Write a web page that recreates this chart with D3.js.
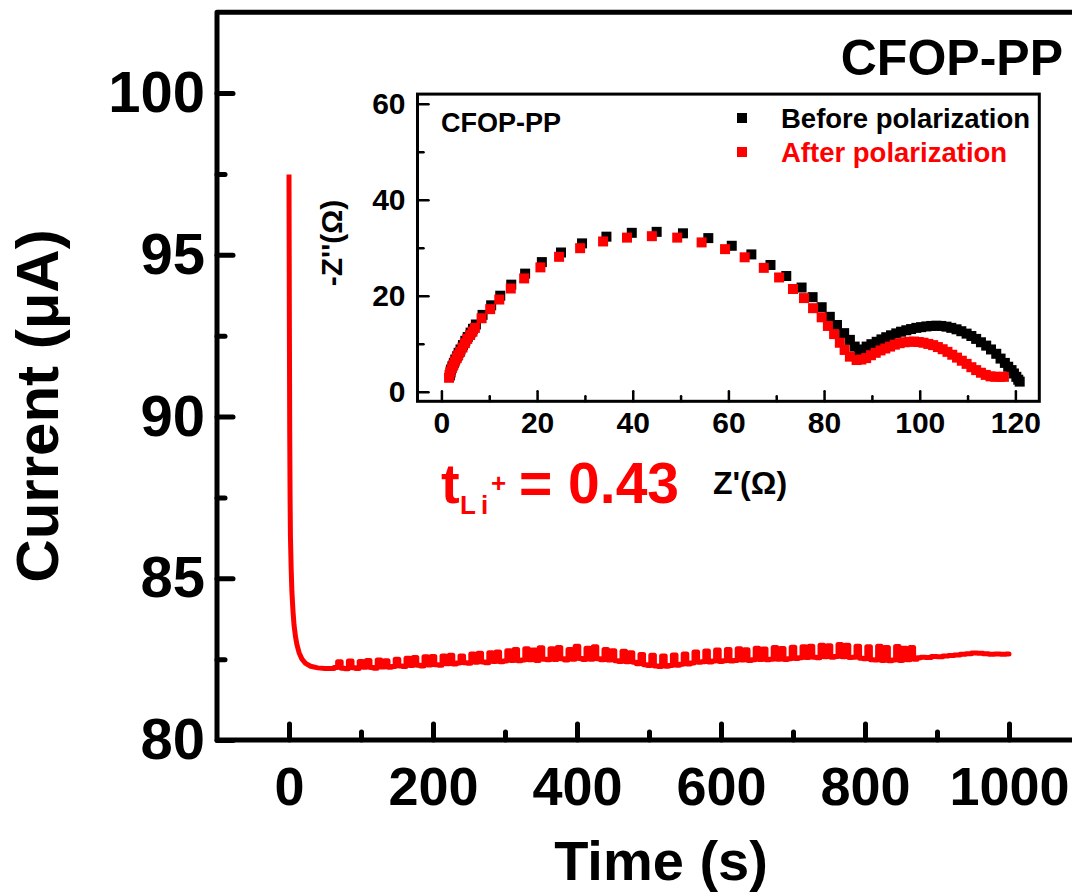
<!DOCTYPE html>
<html>
<head>
<meta charset="utf-8">
<script src="https://cdn.jsdelivr.net/npm/d3@7"></script>
<style>
  html, body { margin: 0; padding: 0; background: #fff; }
  svg { display: block; }
  text { font-family: "Liberation Sans", Arial, Helvetica, sans-serif; font-weight: bold; }
</style>
</head>
<body>
<svg id="chart" width="1072" height="894"></svg>
<script>
// Chronoamperometry: current (µA) vs time (s)
const currentSeries = [
  [0, 97.48], [0.5, 93.0], [1, 89.5], [1.5, 87.5], [2, 86.3], [3, 85.3], [4, 84.6],
  [5.5, 84.0], [7, 83.55], [9, 83.2], [11, 82.95], [14, 82.7], [18, 82.5], [23, 82.37],
  [30, 82.28], [40, 82.23], [50, 82.21],
  [60, 82.21], [65, 82.24], [70, 82.42], [75, 82.22], [80, 82.20], [85, 82.44], [90, 82.23],
  [95, 82.21], [100, 82.43], [105, 82.25], [110, 82.46], [115, 82.24], [120, 82.22], [125, 82.47],
  [130, 82.26], [135, 82.45], [140, 82.25], [145, 82.27], [150, 82.50],
  [155, 82.29], [160, 82.27], [165, 82.53], [170, 82.30], [175, 82.55], [180, 82.31], [185, 82.29],
  [190, 82.57], [195, 82.32], [200, 82.58], [205, 82.33], [210, 82.31], [215, 82.60], [220, 82.36],
  [225, 82.62], [230, 82.35], [235, 82.38], [240, 82.60], [245, 82.39], [250, 82.37], [255, 82.66],
  [260, 82.40], [265, 82.68], [270, 82.41], [275, 82.39], [280, 82.70], [285, 82.43], [290, 82.72],
  [295, 82.42], [300, 82.44],
  [305, 82.76], [310, 82.46], [315, 82.80], [320, 82.45], [325, 82.47], [330, 82.82], [335, 82.48],
  [340, 82.78], [345, 82.46], [350, 82.85], [355, 82.50], [360, 82.48], [365, 82.82], [370, 82.49],
  [375, 82.86], [380, 82.51], [385, 82.47], [390, 82.80], [395, 82.50], [400, 82.90], [405, 82.52],
  [410, 82.49], [415, 82.84], [420, 82.50], [425, 82.88], [430, 82.51], [435, 82.48], [440, 82.80],
  [445, 82.47], [450, 82.76], [455, 82.45], [460, 82.43], [465, 82.74], [470, 82.42], [475, 82.70],
  [480, 82.40],
  [485, 82.36], [490, 82.64], [495, 82.33], [500, 82.30], [505, 82.62], [510, 82.29], [515, 82.27],
  [520, 82.60], [525, 82.28], [530, 82.30], [535, 82.63], [540, 82.31], [545, 82.34], [550, 82.66],
  [555, 82.35], [560, 82.38],
  [565, 82.72], [570, 82.40], [575, 82.42], [580, 82.75], [585, 82.41], [590, 82.44], [595, 82.78],
  [600, 82.43], [605, 82.45], [610, 82.80], [615, 82.44], [620, 82.46], [625, 82.82], [630, 82.47],
  [635, 82.79], [640, 82.46], [645, 82.48], [650, 82.84], [655, 82.49], [660, 82.81], [665, 82.48],
  [670, 82.50], [675, 82.86], [680, 82.50], [685, 82.83], [690, 82.49], [695, 82.51], [700, 82.87],
  [705, 82.52], [710, 82.54], [715, 82.88], [720, 82.55], [725, 82.90], [730, 82.56], [735, 82.54],
  [740, 82.93], [745, 82.57], [750, 82.91], [755, 82.56], [760, 82.58], [765, 82.95], [770, 82.57],
  [775, 82.93], [780, 82.55], [785, 82.56], [790, 82.90], [795, 82.53], [800, 82.51],
  [805, 82.88], [810, 82.48], [815, 82.47], [820, 82.90], [825, 82.46], [830, 82.86], [835, 82.45],
  [840, 82.47], [845, 82.89], [850, 82.46], [855, 82.84], [860, 82.48], [865, 82.86], [870, 82.50],
  [875, 82.54], [880, 82.56], [888, 82.55], [896, 82.58], [904, 82.57], [912, 82.60], [920, 82.61],
  [928, 82.63], [936, 82.65], [944, 82.67], [952, 82.69], [960, 82.68], [968, 82.67], [976, 82.65],
  [984, 82.66], [992, 82.65], [1000, 82.66]
];
const timeTicks = [0, 200, 400, 600, 800, 1000];
const timeMinorTicks = [100, 300, 500, 700, 900];
const currentTicks = [80, 85, 90, 95, 100];
const currentMinorTicks = [82.5, 87.5, 92.5, 97.5];

// Nyquist plot: Z' (Ω) vs -Z'' (Ω)
const beforeSeries = [
  [1.8, 3.4], [1.9, 4.0], [2.0, 4.6], [2.3, 5.3], [2.6, 6.0], [2.9, 6.7], [3.3, 7.4], [3.6, 8.1],
  [4.0, 8.8], [4.5, 9.7], [5.0, 10.6], [5.5, 11.4], [6.1, 12.3], [6.6, 13.1], [7.2, 14.0],
  [8.6, 16.0], [10.4, 18.0], [12.3, 20.0], [14.6, 22.3], [17.5, 24.6], [21.0, 27.0], [25.0, 29.0],
  [29.4, 30.9], [34.5, 32.3], [39.8, 33.1], [45.0, 33.3], [50.5, 33.0], [55.8, 32.0], [60.7, 30.4],
  [64.8, 28.6], [68.8, 26.4], [72.1, 24.1], [75.3, 21.7], [77.6, 19.7], [79.5, 17.6], [81.2, 15.6],
  [82.7, 13.9], [84.2, 12.2], [85.4, 10.8], [86.4, 9.4], [87.3, 8.3], [88.1, 8.8], [88.9, 9.4],
  [89.9, 9.9], [91.0, 10.4], [92.0, 10.9], [93.0, 11.35], [94.0, 11.75], [95.1, 12.15], [96.1, 12.5],
  [97.2, 12.8], [98.2, 13.05], [99.3, 13.3], [100.3, 13.45], [101.4, 13.6], [102.4, 13.7],
  [103.5, 13.75], [104.5, 13.7], [105.6, 13.55], [106.6, 13.3], [107.7, 13.0], [108.7, 12.6],
  [109.8, 12.1], [110.8, 11.6], [111.8, 11.0], [112.8, 10.3], [113.9, 9.6], [114.9, 8.8],
  [116.0, 7.9], [116.9, 6.9], [117.8, 6.0], [118.5, 5.2], [119.2, 4.5], [119.7, 3.8], [120.2, 3.1],
  [120.6, 2.5], [120.9, 2.1]
];
const afterSeries = [
  [1.6, 2.9], [1.7, 3.5], [1.9, 4.2], [2.2, 4.9], [2.5, 5.6], [2.8, 6.3], [3.2, 7.0], [3.5, 7.6],
  [3.9, 8.3], [4.4, 9.2], [4.9, 10.1], [5.4, 11.0], [6.0, 11.8], [6.5, 12.5], [7.0, 13.3],
  [8.4, 15.3], [10.2, 17.2], [12.1, 19.2], [14.5, 21.5], [17.3, 23.6], [20.7, 25.9], [24.6, 28.1],
  [29.0, 29.9], [33.8, 31.3], [38.8, 32.1], [44.0, 32.4], [49.3, 32.1], [54.4, 31.1], [59.3, 29.7],
  [63.4, 28.0], [67.4, 25.8], [70.6, 23.8], [73.5, 21.4], [75.8, 19.5], [77.7, 17.4], [79.5, 15.5],
  [80.8, 13.7], [82.1, 12.0], [83.3, 10.2], [84.3, 8.7], [85.4, 7.3], [86.8, 6.6], [87.8, 6.7],
  [88.8, 7.0], [89.8, 7.6], [90.8, 8.1], [91.8, 8.6], [92.8, 9.0], [93.8, 9.4], [94.8, 9.8],
  [95.8, 10.1], [96.8, 10.3], [97.8, 10.4], [98.8, 10.45], [99.8, 10.35], [100.8, 10.2],
  [101.8, 9.95], [102.8, 9.7], [103.8, 9.3], [104.8, 8.85], [105.8, 8.3], [106.8, 7.7],
  [107.8, 7.1], [108.8, 6.45], [109.8, 5.8], [110.8, 5.1], [111.8, 4.5], [112.8, 3.95],
  [113.8, 3.5], [114.8, 3.2], [115.8, 3.1], [116.8, 3.1], [117.6, 3.1]
];
const zRealTicks = [0, 20, 40, 60, 80, 100, 120];
const zRealMinorTicks = [10, 30, 50, 70, 90, 110];
const zImagTicks = [0, 20, 40, 60];
const zImagMinorTicks = [10, 30, 50];

const legendItems = [
  { name: "Before polarization", color: "#000000", data: beforeSeries },
  { name: "After polarization", color: "#ff0000", data: afterSeries }
];

const FONT = "Liberation Sans, Arial, sans-serif";
const svg = d3.select("#chart");

// ---------- main panel ----------
const x = d3.scaleLinear().domain([-100, 1100]).range([217, 1081]);
const y = d3.scaleLinear().domain([80, 102.5]).range([740, 12.2]);

function styleAxis(g, width) {
  g.select(".domain").remove();
  g.selectAll(".tick line").attr("stroke", "#000").attr("stroke-width", width).attr("stroke-linecap", "round");
}
function styleLabels(g, size) {
  g.selectAll("text").attr("font-size", size).attr("fill", "#000")
    .attr("font-family", FONT).attr("font-weight", "bold");
}

// minor ticks
svg.append("g").attr("transform", "translate(0,740)")
  .call(d3.axisBottom(x).tickValues(timeMinorTicks).tickSize(-8).tickFormat(""))
  .call(g => styleAxis(g, 5));
svg.append("g").attr("transform", "translate(217,0)")
  .call(d3.axisLeft(y).tickValues(currentMinorTicks).tickSize(-8).tickFormat(""))
  .call(g => styleAxis(g, 5));

// major ticks with labels
svg.append("g").attr("transform", "translate(0,740)")
  .call(d3.axisBottom(x).tickValues(timeTicks).tickSize(-16).tickPadding(27).tickFormat(d3.format("d")))
  .call(g => styleAxis(g, 5))
  .call(g => styleLabels(g, 54));
svg.append("g").attr("transform", "translate(217,0)")
  .call(d3.axisLeft(y).tickValues(currentTicks).tickSize(-16).tickPadding(12).tickFormat(d3.format("d")))
  .call(g => styleAxis(g, 5))
  .call(g => styleLabels(g, 58));

// frame
svg.append("rect")
  .attr("x", x(-100)).attr("y", y(102.5))
  .attr("width", x(1100) - x(-100)).attr("height", y(80) - y(102.5))
  .attr("fill", "none").attr("stroke", "#000").attr("stroke-width", 5)
  .attr("stroke-linejoin", "round");

// current trace: smooth initial decay, then the sampled steady-state record
const decayPart = currentSeries.filter(d => d[0] <= 60);
const steadyPart = currentSeries.filter(d => d[0] >= 60);
svg.append("path")
  .datum(decayPart)
  .attr("fill", "none").attr("stroke", "#ff0000").attr("stroke-width", 5)
  .attr("stroke-linejoin", "round")
  .attr("d", d3.line().x(d => x(d[0])).y(d => y(d[1])));
svg.append("path")
  .datum(steadyPart)
  .attr("fill", "none").attr("stroke", "#ff0000").attr("stroke-width", 5)
  .attr("stroke-linejoin", "round").attr("stroke-linecap", "round")
  .attr("d", d3.line().curve(d3.curveStep).x(d => x(d[0])).y(d => y(d[1])));

// axis titles
svg.append("text").attr("x", 661).attr("y", 880).attr("text-anchor", "middle")
  .attr("font-size", 56).text("Time (s)");
svg.append("text").attr("transform", "translate(58,406) rotate(-90)").attr("text-anchor", "middle")
  .attr("font-size", 60).text("Current (μA)");

svg.append("text").attr("x", 1063).attr("y", 75).attr("text-anchor", "end")
  .attr("font-size", 50).text("CFOP-PP");

// transference number
const tl = svg.append("g").attr("fill", "#ff0000");
tl.append("text").attr("x", 441).attr("y", 503).attr("font-size", 56).text("t");
tl.append("text").attr("x", 460).attr("y", 514).attr("font-size", 26).attr("letter-spacing", 5).text("Li");
tl.append("text").attr("x", 491).attr("y", 492).attr("font-size", 26).text("+");
tl.append("text").attr("x", 519).attr("y", 503).attr("font-size", 57).text("= 0.43");

// ---------- inset: Nyquist plot ----------
const ix = d3.scaleLinear().domain([-5, 125]).range([417.5, 1039.3]);
const iy = d3.scaleLinear().domain([-2, 62]).range([401.3, 94.1]);

svg.append("rect")
  .attr("x", ix(-5)).attr("y", iy(62))
  .attr("width", ix(125) - ix(-5)).attr("height", iy(-2) - iy(62))
  .attr("fill", "#fff");

svg.append("g").attr("transform", `translate(0,${iy(-2)})`)
  .call(d3.axisBottom(ix).tickValues(zRealMinorTicks).tickSize(-5).tickFormat(""))
  .call(g => styleAxis(g, 2.5));
svg.append("g").attr("transform", `translate(${ix(-5)},0)`)
  .call(d3.axisLeft(iy).tickValues(zImagMinorTicks).tickSize(-6).tickFormat(""))
  .call(g => styleAxis(g, 2.5));
svg.append("g").attr("transform", `translate(0,${iy(-2)})`)
  .call(d3.axisBottom(ix).tickValues(zRealTicks).tickSize(-10).tickPadding(10).tickFormat(d3.format("d")))
  .call(g => styleAxis(g, 2.5))
  .call(g => styleLabels(g, 30));
svg.append("g").attr("transform", `translate(${ix(-5)},0)`)
  .call(d3.axisLeft(iy).tickValues(zImagTicks).tickSize(-11).tickPadding(12).tickFormat(d3.format("d")))
  .call(g => styleAxis(g, 2.5))
  .call(g => styleLabels(g, 30));

svg.append("rect")
  .attr("x", ix(-5)).attr("y", iy(62))
  .attr("width", ix(125) - ix(-5)).attr("height", iy(-2) - iy(62))
  .attr("fill", "none").attr("stroke", "#000").attr("stroke-width", 3);

const marker = 10;
legendItems.forEach(item => {
  svg.append("g").selectAll("rect")
    .data(item.data)
    .join("rect")
    .attr("x", d => ix(d[0]) - marker / 2)
    .attr("y", d => iy(d[1]) - marker / 2)
    .attr("width", marker).attr("height", marker)
    .attr("fill", item.color);
});

svg.append("text").attr("x", 441).attr("y", 132).attr("font-size", 27).text("CFOP-PP");

const legend = svg.append("g");
legendItems.forEach((item, i) => {
  const cy = 118 + i * 34;
  legend.append("rect").attr("x", 737).attr("y", cy - 5).attr("width", marker).attr("height", marker)
    .attr("fill", item.color);
  legend.append("text").attr("x", 781).attr("y", cy + 9.5).attr("font-size", 27.5)
    .attr("fill", item.color).text(item.name);
});

svg.append("text").attr("x", 750).attr("y", 494).attr("text-anchor", "middle")
  .attr("font-size", 32).text("Z'(Ω)");
svg.append("text").attr("transform", "translate(342,243) rotate(-90)").attr("text-anchor", "middle")
  .attr("font-size", 30).text("-Z''(Ω)");
</script>
</body>
</html>
